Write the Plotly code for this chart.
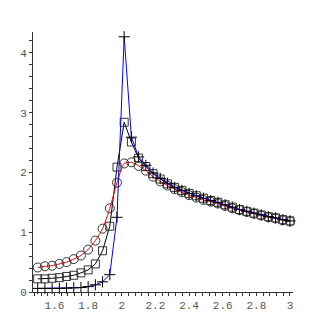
import plotly.graph_objects as go

# Abscisses communes aux trois series
x_vals = [1.5, 1.5429, 1.5857, 1.6286, 1.6714, 1.7143, 1.7571, 1.8, 1.8429, 1.8857,
          1.9286, 1.9714, 2.0143, 2.0571, 2.1, 2.1429, 2.1857, 2.2286, 2.2714, 2.3143,
          2.3571, 2.4, 2.4429, 2.4857, 2.5286, 2.5714, 2.6143, 2.6571, 2.7, 2.7429,
          2.7857, 2.8286, 2.8714, 2.9143, 2.9571, 3.0]

y_rouge = [0.41, 0.43, 0.44, 0.47, 0.50, 0.55, 0.61, 0.71, 0.86, 1.06,
           1.40, 1.83, 2.15, 2.17, 2.11, 2.03, 1.93, 1.85, 1.78, 1.72,
           1.67, 1.62, 1.58, 1.54, 1.51, 1.48, 1.44, 1.40, 1.37, 1.34,
           1.31, 1.28, 1.25, 1.23, 1.20, 1.18]

y_noir = [0.22, 0.22, 0.23, 0.24, 0.26, 0.28, 0.32, 0.37, 0.47, 0.69,
          1.10, 2.09, 2.84, 2.51, 2.24, 2.10, 1.98, 1.89, 1.81, 1.75,
          1.70, 1.65, 1.61, 1.57, 1.53, 1.50, 1.46, 1.42, 1.38, 1.35,
          1.32, 1.29, 1.26, 1.24, 1.21, 1.19]

y_bleu = [0.06, 0.06, 0.06, 0.06, 0.065, 0.07, 0.075, 0.09, 0.12, 0.17,
          0.29, 1.25, 4.27, 2.59, 2.26, 2.12, 1.99, 1.90, 1.82, 1.75,
          1.70, 1.65, 1.61, 1.57, 1.53, 1.50, 1.46, 1.42, 1.38, 1.35,
          1.32, 1.29, 1.26, 1.24, 1.21, 1.19]

fig = go.Figure()

fig.add_trace(go.Scatter(
    x=x_vals, y=y_noir, mode="lines+markers",
    line=dict(color="black", width=1),
    marker=dict(symbol="square-open", size=8, color="#333333", line=dict(width=1)),
    cliponaxis=False,
))

fig.add_trace(go.Scatter(
    x=x_vals, y=y_rouge, mode="lines+markers",
    line=dict(color="red", width=1, shape="spline", smoothing=0.6),
    marker=dict(symbol="circle-open", size=9, color="#333333", line=dict(width=1)),
    cliponaxis=False,
))

fig.add_trace(go.Scatter(
    x=x_vals, y=y_bleu, mode="lines+markers",
    line=dict(color="blue", width=1),
    marker=dict(symbol="cross-thin", size=8, line=dict(width=1, color="black")),
    cliponaxis=False,
))

axe = dict(
    showgrid=False, zeroline=False, showline=True,
    linecolor="#333333", linewidth=1,
    ticks="outside", ticklen=3, tickcolor="#333333",
    tickfont=dict(family="Liberation Mono", size=11, color="#555555"),
)

# la page ajoute 8 px de marge en haut et a gauche
fig.update_layout(
    width=319, height=319,
    paper_bgcolor="white", plot_bgcolor="white",
    showlegend=False,
    margin=dict(l=25, r=34, t=24, b=35),
    xaxis=dict(**axe, range=[1.472, 3.018], dtick=0.2, tick0=0,
               minor=dict(dtick=0.04, tick0=0, ticks="outside", ticklen=3, tickcolor="#333333")),
    yaxis=dict(**axe, range=[0, 4.35], dtick=1, tick0=0,
               minor=dict(dtick=0.2, tick0=0, ticks="outside", ticklen=3, tickcolor="#333333")),
)

fig.write_html("out.html")
